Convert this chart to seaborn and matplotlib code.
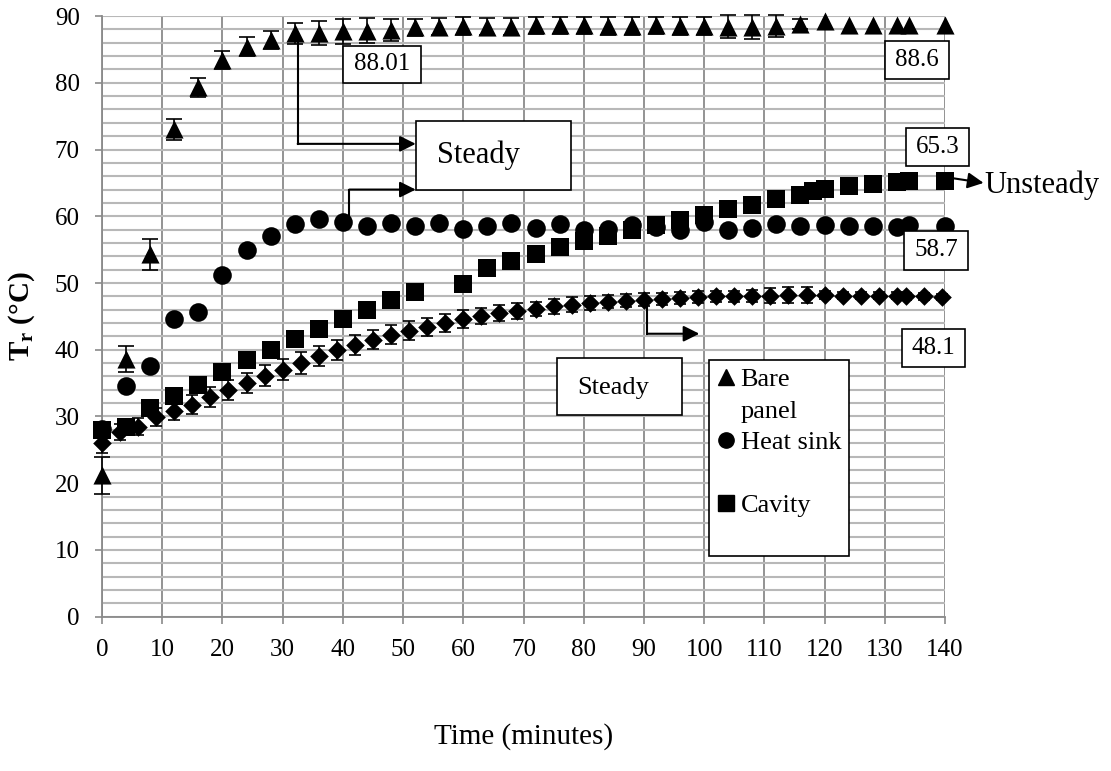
import numpy as np
import pandas as pd
import matplotlib
matplotlib.use("Agg")
import matplotlib.pyplot as plt
import seaborn as sns
from matplotlib.lines import Line2D
from matplotlib.patches import Rectangle
from matplotlib.ticker import MultipleLocator

# Tiempos (minutos) de las series medidas cada 4 min
t_main = [0, 4, 8, 12, 16, 20, 24, 28, 32, 36, 40, 44, 48, 52, 56, 60, 64, 68,
          72, 76, 80, 84, 88, 92, 96, 100, 104, 108, 112, 116, 120, 124, 128,
          132, 134, 140]

# Bare panel (triangulos)
bare = [21.2, 38.6, 54.3, 73.0, 79.3, 83.4, 85.4, 86.4, 87.4, 87.5, 87.7, 87.8,
        87.9, 88.3, 88.4, 88.5, 88.4, 88.4, 88.6, 88.6, 88.6, 88.5, 88.5, 88.6,
        88.5, 88.5, 88.4, 88.4, 88.5, 88.8, 89.3, 88.7, 88.7, 88.7, 88.7, 88.6]
bare_err = [2.8, 2.0, 2.3, 1.6, 1.4, 1.3, 1.4, 1.4, 1.6, 1.8, 1.9, 1.9,
            1.6, 1.3, 1.3, 1.3, 1.3, 1.3, 1.3, 1.3, 1.3, 1.3, 1.3, 1.3,
            1.3, 1.3, 1.7, 1.8, 1.6, 0.8, 0, 0, 0, 0, 0, 0]

# Heat sink (circulos)
heat = [28.2, 34.5, 37.6, 44.6, 45.7, 51.2, 55.0, 57.1, 58.9, 59.6, 59.1, 58.6,
        59.0, 58.6, 59.0, 58.1, 58.6, 59.0, 58.3, 58.8, 57.9, 58.1, 58.65, 58.35,
        58.0, 59.1, 58.0, 58.3, 58.9, 58.5, 58.7, 58.6, 58.5, 58.4, 58.7, 58.6]

# Cavity (cuadrados)
t_cav = [0, 4, 8, 12, 16, 20, 24, 28, 32, 36, 40, 44, 48, 52, 60, 64, 68, 72,
         76, 80, 84, 88, 92, 96, 100, 104, 108, 112, 116, 118, 120, 124, 128,
         132, 134, 140]
cavity = [28.0, 28.5, 31.3, 33.0, 34.75, 36.6, 38.4, 40.0, 41.6, 43.1, 44.65,
          46.0, 47.4, 48.65, 49.9, 52.3, 53.25, 54.4, 55.35, 56.35, 57.1, 58.0,
          58.75, 59.5, 60.15, 61.1, 61.75, 62.6, 63.25, 63.75, 64.1, 64.6,
          64.85, 65.1, 65.25, 65.3]

# Cuarta serie (rombos), cada 3 min
t_rombo = [0, 3, 6, 9, 12, 15, 18, 21, 24, 27, 30, 33, 36, 39, 42, 45, 48, 51,
           54, 57, 60, 63, 66, 69, 72, 75, 78, 81, 84, 87, 90, 93, 96, 99, 102,
           105, 108, 111, 114, 117, 120, 123, 126, 129, 132, 133.5, 136.5, 139.5]
rombo = [26.1, 27.75, 28.5, 29.9, 30.75, 31.75, 32.9, 34.0, 35.0, 36.1, 37.0,
         38.0, 39.0, 39.9, 40.75, 41.5, 42.25, 42.85, 43.4, 44.0, 44.6, 45.0,
         45.5, 45.85, 46.1, 46.5, 46.75, 47.0, 47.2, 47.35, 47.5, 47.6, 47.75,
         47.9, 48.0, 48.0, 48.1, 48.1, 48.2, 48.2, 48.2, 48.1, 48.1, 48.1, 48.1,
         48.0, 48.0, 47.9]
rombo_err = [1.5, 1.2, 1.2, 1.3, 1.3, 1.4, 1.5, 1.5, 1.5, 1.6, 1.6, 1.6, 1.5,
             1.5, 1.5, 1.4, 1.4, 1.4, 1.3, 1.3, 1.3, 1.2, 1.2, 1.2, 1.1, 1.1,
             1.1, 1.0, 1.0, 1.0, 1.0, 0.9, 0.9, 0.9, 0.8, 0.8, 0.9, 1.1, 1.2,
             1.2, 0.6, 0.5, 0.5, 0.5, 0.5, 0.5, 0.5, 0.5]

plt.rcParams['font.family'] = ['Liberation Serif', 'DejaVu Serif']
plt.rcParams['mathtext.default'] = 'regular'

fig = plt.figure(figsize=(11.11, 7.71), dpi=100)
ax = fig.add_axes([0.0918, 0.2001, 0.7588, 0.7791])

# barras de error (solo donde hay error)
for xs, ys, es, cap in [(t_main, bare, bare_err, 5.5), (t_rombo, rombo, rombo_err, 4.5)]:
    xs, ys, es = np.array(xs), np.array(ys), np.array(es)
    m = es > 0
    ax.errorbar(xs[m], ys[m], yerr=es[m], fmt='none', ecolor='black',
                elinewidth=1.2, capsize=cap, capthick=1.2, zorder=3, clip_on=False)

sns.scatterplot(x=t_main, y=bare, marker='^', s=170, color='black', linewidth=0,
                ax=ax, zorder=4, clip_on=False)
sns.scatterplot(x=t_main, y=heat, marker='o', s=180, color='black', linewidth=0,
                ax=ax, zorder=4, clip_on=False)
sns.scatterplot(x=t_cav, y=cavity, marker='s', s=170, color='black', linewidth=0,
                ax=ax, zorder=4, clip_on=False)
sns.scatterplot(x=t_rombo, y=rombo, marker='D', s=90, color='black', linewidth=0,
                ax=ax, zorder=5, clip_on=False)

# ejes
ax.set_xlim(0, 140)
ax.set_ylim(0, 90)
ax.xaxis.set_major_locator(MultipleLocator(10))
ax.yaxis.set_major_locator(MultipleLocator(10))
ax.yaxis.set_minor_locator(MultipleLocator(2))
ax.set_axisbelow(True)
ax.grid(axis='x', which='major', color='#8a8a8a', lw=1.3)
ax.grid(axis='y', which='both', color='#b8b8b8', lw=1.5)
ax.tick_params(axis='y', which='minor', length=0)
ax.tick_params(which='major', length=5, width=1.2, color='#8a8a8a',
               labelsize=18, pad=11)
for s in ['top', 'right']:
    ax.spines[s].set_visible(False)
for s in ['left', 'bottom']:
    ax.spines[s].set_color('#8a8a8a')
    ax.spines[s].set_linewidth(1.3)

ax.set_xlabel('Time (minutes)', fontsize=21)
ax.xaxis.set_label_coords(0.5, -0.177)
ax.set_ylabel('T$_r$ (°C)', fontsize=21, fontweight='bold')
ax.yaxis.set_label_coords(-0.077, 0.5)

# cajas con valores
cajas = [('88.01', 40.1, 52.9, 80.0, 85.5),
         ('88.6', 130.1, 140.6, 80.5, 86.25),
         ('65.3', 133.6, 144.0, 67.5, 73.25),
         ('58.7', 133.2, 143.8, 52.0, 57.75),
         ('48.1', 132.8, 143.3, 37.4, 43.1)]
for txt, x0, x1, y0, y1 in cajas:
    ax.add_patch(Rectangle((x0, y0), x1 - x0, y1 - y0, fc='white', ec='black',
                           lw=1.2, zorder=6, clip_on=False))
    ax.text((x0 + x1) / 2, (y0 + y1) / 2, txt, ha='center', va='center',
            fontsize=18, zorder=7, clip_on=False)

ax.add_patch(Rectangle((52.1, 64.0), 25.8, 10.2, fc='white', ec='black', lw=1.2, zorder=6))
ax.text(55.7, 69.2, 'Steady', ha='left', va='center', fontsize=22, zorder=7)
ax.add_patch(Rectangle((75.5, 30.26), 20.8, 8.5, fc='white', ec='black', lw=1.2, zorder=6))
ax.text(79.0, 34.3, 'Steady', ha='left', va='center', fontsize=19, zorder=7)


def flecha_codo(x0, y0, y1, x1):
    ax.plot([x0, x0], [y0, y1], color='black', lw=1.5, zorder=6)
    ax.annotate('', xy=(x1, y1), xytext=(x0, y1),
                arrowprops=dict(arrowstyle='-|>', color='black', lw=1.5,
                                mutation_scale=24, shrinkA=0, shrinkB=0), zorder=6)


flecha_codo(32.5, 87.0, 70.85, 52.1)
flecha_codo(41.1, 60.0, 64.0, 52.1)
flecha_codo(90.5, 47.5, 42.4, 99.2)
ax.annotate('', xy=(146.4, 65.0), xytext=(141.3, 65.7),
            arrowprops=dict(arrowstyle='-|>', color='black', lw=1.5,
                            mutation_scale=24, shrinkA=0, shrinkB=0),
            annotation_clip=False, zorder=6)
ax.text(146.6, 64.7, 'Unsteady', ha='left', va='center', fontsize=22, clip_on=False)

# leyenda
vacio = Line2D([], [], linestyle='none', marker=None)
handles = [Line2D([], [], marker='^', color='black', linestyle='none', markersize=11),
           vacio,
           Line2D([], [], marker='o', color='black', linestyle='none', markersize=11),
           vacio,
           Line2D([], [], marker='s', color='black', linestyle='none', markersize=11),
           vacio]
labels = ['Bare', 'panel', 'Heat sink', ' ', 'Cavity', ' ']
leg = ax.legend(handles, labels, loc='upper left', bbox_to_anchor=(0.72, 0.4273),
                borderaxespad=0, fontsize=19, handlelength=0.7, handletextpad=0.2,
                labelspacing=0.3, borderpad=0.3, fancybox=False, framealpha=1,
                edgecolor='black')
leg.get_frame().set_linewidth(1.2)
leg.set_zorder(8)

fig.savefig('out.png', dpi=100)
